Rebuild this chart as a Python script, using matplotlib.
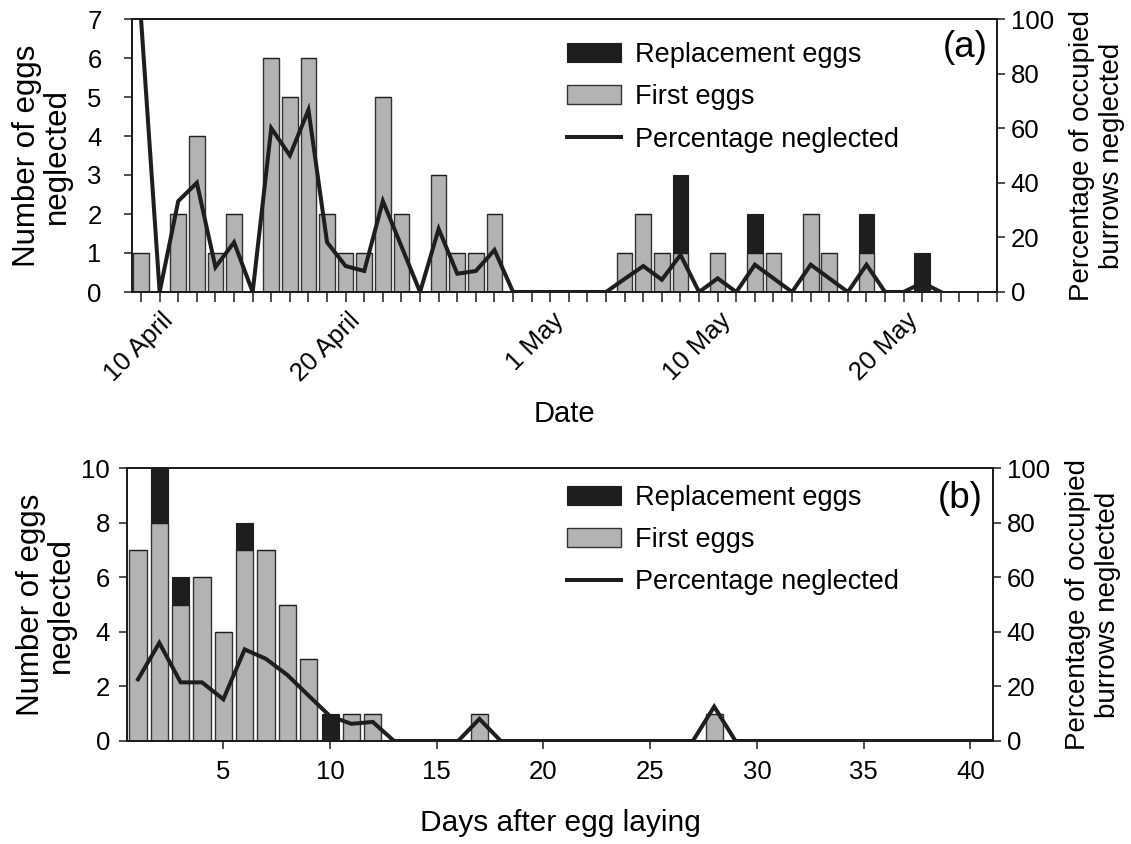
import numpy as np
import matplotlib
matplotlib.use("Agg")
import matplotlib.pyplot as plt

plt.rcParams['font.family'] = ['Liberation Sans', 'DejaVu Sans']

# ---- panel (a): days from 8 April to 24 May ----
first_a = [1, 0, 2, 4, 1, 2, 0, 6, 5, 6, 2, 1, 1, 5, 2, 0, 3, 1, 1, 2,
           0, 0, 0, 0, 0, 0,
           1, 2, 1, 1, 0, 1, 0, 1, 1, 0, 2, 1, 0, 1, 0, 0, 0, 0, 0, 0, 0]
repl_a = [0, 0, 0, 0, 0, 0, 0, 0, 0, 0, 0, 0, 0, 0, 0, 0, 0, 0, 0, 0,
          0, 0, 0, 0, 0, 0,
          0, 0, 0, 2, 0, 0, 0, 1, 0, 0, 0, 0, 0, 1, 0, 0, 1, 0, 0, 0, 0]
pct_a = [100, 0, 33.3, 40, 9.1, 18.2, 0, 60, 50, 66.7, 18.2, 9.5, 7.7, 33.3,
         16.7, 0, 23.1, 6.7, 7.7, 15.4, 0, 0, 0, 0, 0, 0, 4.8, 9.5, 4.5, 13.6,
         0, 5, 0, 10, 5, 0, 10, 5, 0, 10, 0, 0, 3.4, 0]
date_tick_idx = [2, 12, 23, 32, 42]
date_tick_labels = ['10 April', '20 April', '1 May', '10 May', '20 May']

# ---- panel (b): days after egg laying ----
days_b = list(range(1, 29))
first_b = [7, 8, 5, 6, 4, 7, 7, 5, 3, 0, 1, 1, 0, 0, 0, 0, 1, 0, 0, 0,
           0, 0, 0, 0, 0, 0, 0, 1]
repl_b = [0, 2, 1, 0, 0, 1, 0, 0, 0, 1, 0, 0, 0, 0, 0, 0, 0, 0, 0, 0,
          0, 0, 0, 0, 0, 0, 0, 0]
pct_days_b = list(range(1, 42))
pct_b = [22.6, 36, 21.5, 21.5, 15.3, 33.6, 30.1, 24.2, 16.6, 9.1, 6.3, 7.0,
         0, 0, 0, 0, 8.1, 0, 0, 0, 0, 0, 0, 0, 0, 0, 0, 12.6,
         0, 0, 0, 0, 0, 0, 0, 0, 0, 0, 0, 0, 0]

GREY = '#b3b3b3'
DARK = '#1e1e1e'
TICK_FS = 18.5
LEG_FS = 19.5

fig = plt.figure(figsize=(11.31, 8.44), dpi=100)


def style_axes(ax, ax2):
    for a in (ax, ax2):
        for sp in a.spines.values():
            sp.set_linewidth(1.4)
            sp.set_color(DARK)
        a.tick_params(which='both', direction='out', length=6, width=1.1,
                      color=DARK, labelsize=TICK_FS, pad=4)


def draw_panel(ax, x_bar, first, repl, x_pct, pct, width, letter, leg_xy,
               letter_xy, left_pad, left_labelpad):
    first = np.array(first)
    repl = np.array(repl)
    b1 = ax.bar(x_bar, first, width=width, color=GREY, edgecolor='#333333',
                linewidth=1.0, label='First eggs', zorder=2)
    b2 = ax.bar(x_bar, repl, bottom=first, width=width, color=DARK,
                edgecolor=DARK, linewidth=0.8, label='Replacement eggs', zorder=2)
    ax2 = ax.twinx()
    ln, = ax2.plot(x_pct, pct, color=DARK, linewidth=2.9,
                   solid_joinstyle='miter', label='Percentage neglected')
    ax2.set_ylim(0, 100)
    ax2.set_yticks(range(0, 101, 20))
    style_axes(ax, ax2)
    ax.tick_params(axis='y', pad=left_pad)
    ax2.legend([b2, b1, ln], ['Replacement eggs', 'First eggs', 'Percentage neglected'],
               loc='upper left', bbox_to_anchor=leg_xy, frameon=False,
               fontsize=LEG_FS, borderpad=0, borderaxespad=0,
               handlelength=2.0, handletextpad=0.5, labelspacing=0.6)
    ax2.text(letter_xy[0], letter_xy[1], letter, transform=ax2.transAxes,
             ha='right', va='top', fontsize=26.5)
    ax.set_ylabel('Number of eggs\nneglected', fontsize=22.5,
                  linespacing=1.0, labelpad=left_labelpad)
    ax2.set_ylabel('Percentage of occupied\nburrows neglected', fontsize=20,
                   linespacing=1.2, labelpad=11)
    return ax2


# ---- top panel ----
ax_a = fig.add_axes([132.3 / 1131, 1 - 292 / 844, 864.4 / 1131, 273 / 844])
x_a = np.arange(len(first_a))
draw_panel(ax_a, x_a, first_a, repl_a, np.arange(len(pct_a)), pct_a, 0.84,
           '(a)', (0.503, 0.915), (0.99, 0.96), 16, 11)
ax_a.set_ylim(0, 7)
ax_a.set_yticks(range(0, 8))
ax_a.set_xlim(-0.47, len(first_a) - 1)
ax_a.set_xticks(date_tick_idx)
ax_a.set_xticklabels(date_tick_labels, rotation=45, ha='right')
ax_a.set_xticks(x_a, minor=True)
ax_a.tick_params(axis='x', which='both', length=7, labelsize=18.5, pad=5)
ax_a.set_xlabel('Date', fontsize=21, labelpad=10)

# ---- bottom panel ----
ax_b = fig.add_axes([127.3 / 1131, 1 - 741 / 844, 865.4 / 1131, 272.7 / 844])
draw_panel(ax_b, days_b, first_b, repl_b, pct_days_b, pct_b, 0.8,
           '(b)', (0.508, 0.94), (0.988, 0.955), 6.5, 4)
ax_b.set_ylim(0, 10)
ax_b.set_yticks(range(0, 11, 2))
ax_b.set_xlim(0.5, 41.05)
ax_b.set_xticks(range(5, 41, 5))
ax_b.tick_params(axis='x', pad=8)
ax_b.set_xlabel('Days after egg laying', fontsize=21.5, labelpad=18)

fig.savefig('out.png', dpi=100)
